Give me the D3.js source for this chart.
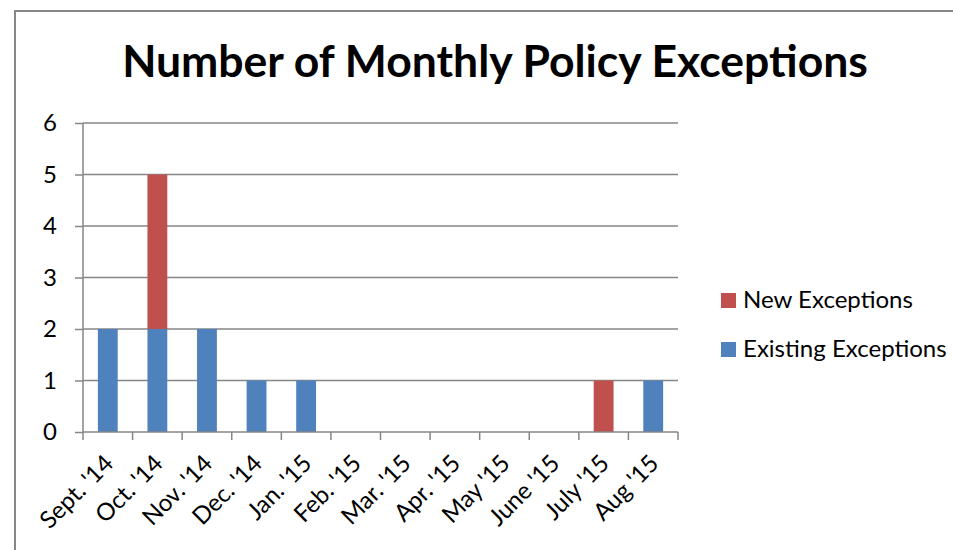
<!DOCTYPE html>
<html><head><meta charset="utf-8">
<script src="https://cdn.jsdelivr.net/npm/d3@7"></script>
<style>
html,body{margin:0;padding:0;background:#fff;overflow:hidden;}
svg{display:block;font-family:Lato,"Open Sans",sans-serif;}
</style></head><body>
<svg id="chart" width="953" height="550"></svg>
<script>
const months = ["Sept. '14","Oct. '14","Nov. '14","Dec. '14","Jan. '15","Feb. '15","Mar. '15","Apr. '15","May '15","June '15","July '15","Aug '15"];
const existingExceptions = [2,2,2,1,1,0,0,0,0,0,0,1];
const newExceptions = [0,3,0,0,0,0,0,0,0,0,1,0];
const seriesNames = ["Existing Exceptions","New Exceptions"];
const yTicks = [0,1,2,3,4,5,6];
const titleText = "Number of Monthly Policy Exceptions";

const colors = {"Existing Exceptions":"#4F81BD","New Exceptions":"#C0504D"};
const svg = d3.select("#chart");
const gridColor = "#868686";

// frame
svg.append("rect").attr("x",15).attr("y",11).attr("width",960).attr("height",560)
  .attr("fill","none").attr("stroke","#878787").attr("stroke-width",2);

const m = {left:83, right:678, top:123, bottom:432};
const x = d3.scaleBand().domain(months).range([m.left,m.right]).paddingInner(0.6).paddingOuter(0.3);
const y = d3.scaleLinear().domain([0,6]).range([m.bottom,m.top]);

// gridlines
svg.append("g").selectAll("line").data(yTicks.filter(d=>d>0)).join("line")
  .attr("x1",m.left).attr("x2",m.right).attr("y1",d=>y(d)).attr("y2",d=>y(d))
  .attr("stroke",gridColor).attr("stroke-width",1.5);

// stacked bars
const table = months.map((mo,i)=>({month:mo,"Existing Exceptions":existingExceptions[i],"New Exceptions":newExceptions[i]}));
const stack = d3.stack().keys(seriesNames)(table);
svg.append("g").selectAll("g").data(stack).join("g").attr("fill",s=>colors[s.key])
  .selectAll("rect").data(s=>s).join("rect")
  .attr("x",d=>x(d.data.month)).attr("width",x.bandwidth())
  .attr("y",d=>y(d[1])).attr("height",d=>y(d[0])-y(d[1]));

// y axis
const yAxis = svg.append("g").attr("transform",`translate(${m.left},0)`)
  .call(d3.axisLeft(y).tickValues(yTicks).tickFormat(d3.format("d")).tickSize(8).tickPadding(18));
yAxis.select(".domain").attr("stroke",gridColor).attr("stroke-width",1.5).attr("d",`M0,${m.top}V${m.bottom}`);
yAxis.selectAll(".tick line").attr("stroke",gridColor).attr("stroke-width",1.5);
yAxis.selectAll(".tick text").attr("font-size",24).attr("fill","#000").attr("font-family","Lato");

// x axis
const xAxis = svg.append("g").attr("transform",`translate(0,${m.bottom})`)
  .call(d3.axisBottom(x).tickSize(0).tickPadding(0));
xAxis.select(".domain").attr("stroke",gridColor).attr("stroke-width",1.5).attr("d",`M${m.left},0H${m.right}`);
// boundary ticks between categories
const bounds = d3.range(months.length+1).map(i=>m.left+i*(m.right-m.left)/months.length);
xAxis.append("g").selectAll("line").data(bounds).join("line")
  .attr("x1",d=>d).attr("x2",d=>d).attr("y1",0).attr("y2",8)
  .attr("stroke",gridColor).attr("stroke-width",1.5);
xAxis.selectAll(".tick text")
  .attr("font-size",24).attr("fill","#000").attr("font-family","Lato")
  .attr("text-anchor","end").attr("dy","0")
  .attr("transform","translate(7,33) rotate(-45)");

// title
const title = svg.append("text").attr("x",495).attr("y",77).attr("text-anchor","middle")
  .attr("font-weight","bold").attr("font-size",44).attr("fill","#000").text(titleText);
const tw = title.node().getComputedTextLength();
title.attr("font-size",44*746/tw);

// legend
const legendItems = [{name:"New Exceptions",y:293},{name:"Existing Exceptions",y:342}];
const lg = svg.append("g");
lg.selectAll("rect").data(legendItems).join("rect")
  .attr("x",721).attr("y",d=>d.y).attr("width",15).attr("height",15).attr("fill",d=>colors[d.name]);
lg.selectAll("text").data(legendItems).join("text")
  .attr("x",743).attr("y",d=>d.y+15).attr("font-size",22).attr("fill","#000").text(d=>d.name);
const lw = lg.select("text").node().getComputedTextLength();
lg.selectAll("text").attr("font-size",22*170/lw);
</script></body></html>
